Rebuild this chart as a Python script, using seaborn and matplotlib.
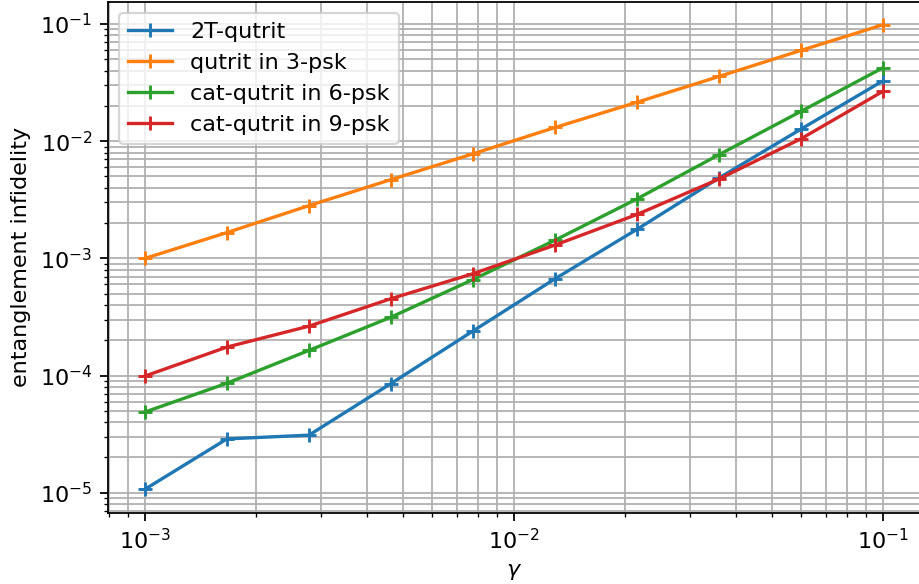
import matplotlib
matplotlib.use("Agg")
import matplotlib.pyplot as plt
import seaborn as sns
import pandas as pd

# gamma values (log-spaced, 1e-3 .. 1e-1)
gamma = [1.0e-3, 1.668e-3, 2.783e-3, 4.642e-3, 7.743e-3,
         1.292e-2, 2.154e-2, 3.594e-2, 5.995e-2, 1.0e-1]

# entanglement infidelity per code
two_t_qutrit = [1.07e-5, 2.88e-5, 3.1e-5, 8.55e-5, 2.4e-4,
                6.7e-4, 1.77e-3, 4.86e-3, 1.27e-2, 3.28e-2]
qutrit_3psk = [1.0e-3, 1.66e-3, 2.82e-3, 4.7e-3, 7.8e-3,
               1.31e-2, 2.15e-2, 3.57e-2, 5.96e-2, 9.86e-2]
cat_6psk = [4.88e-5, 8.6e-5, 1.64e-4, 3.15e-4, 6.6e-4,
            1.43e-3, 3.22e-3, 7.68e-3, 1.8e-2, 4.24e-2]
cat_9psk = [9.9e-5, 1.75e-4, 2.64e-4, 4.53e-4, 7.4e-4,
            1.3e-3, 2.37e-3, 4.76e-3, 1.05e-2, 2.67e-2]

labels = ["2T-qutrit", "qutrit in 3-psk", "cat-qutrit in 6-psk", "cat-qutrit in 9-psk"]
series = [two_t_qutrit, qutrit_3psk, cat_6psk, cat_9psk]
colors = sns.color_palette("tab10", 4)

DPI = 160
fig = plt.figure(figsize=(919 / DPI, 584 / DPI), dpi=DPI)
ax = fig.add_axes([0.1175, 0.1224, 0.8836, 0.875])

for lab, vals, col in zip(labels, series, colors):
    df = pd.DataFrame({"gamma": gamma, "infid": vals})
    sns.lineplot(data=df, x="gamma", y="infid", ax=ax, label=lab, color=col,
                 marker="+", markersize=6.5, markeredgecolor=col,
                 markeredgewidth=1.3, linewidth=1.5)

ax.set_xscale("log")
ax.set_yscale("log")
ax.grid(True, which="both", color="#b0b0b0", linewidth=0.8)
ax.set_xlabel(r"$\gamma$")
ax.set_ylabel("entanglement infidelity")
ax.legend(loc="upper left")

fig.savefig("out.png", dpi=DPI)
